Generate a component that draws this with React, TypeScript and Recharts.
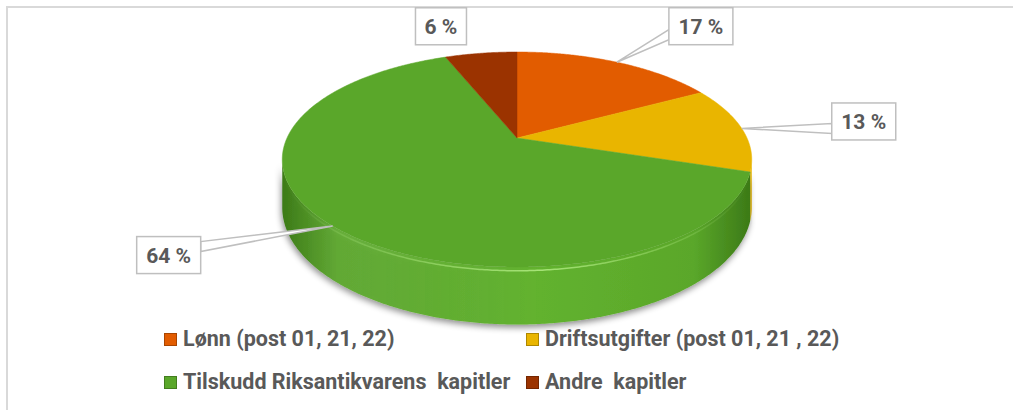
import React from 'react';
import { PieChart, Pie, Cell, Legend } from 'recharts';

// ---- data ----
const categories = [
  'Lønn (post 01, 21, 22)',
  'Driftsutgifter (post 01, 21 , 22)',
  'Tilskudd Riksantikvarens  kapitler',
  'Andre  kapitler',
];
const shares = [17, 13, 64, 6];

// ---- styling / layout (kept apart from the data) ----
const colors = ['#E25C00', '#E9B500', '#5AA72A', '#9B3300'];
const sideDark = ['#A84300', '#AE8500', '#3C7A17', '#6E2400'];
const sideLight = ['#E86A10', '#F0C020', '#62B22F', '#A83A05'];
const labelOffsets: [number, number][] = [
  [84, -36],
  [122, -7],
  [-164, 29],
  [-40, -27],
];
const legendCols = [164, 526];
const legendRows = [339, 382];

const data = categories.map((name, i) => ({ name, value: shares[i] }));

const W = 1013;
const H = 410;
const CX = 517;
const CY = 138;
const R = 230;
const TILT = 0.4487;
const PERSP = 0.2;
const DEPTH = 46;
const FONT = 'Roboto, "Open Sans", sans-serif';

function project(cx: number, cy: number, r: number, deg: number, down = 0): [number, number] {
  const t = (deg * Math.PI) / 180;
  const u = Math.cos(t);
  const v = Math.sin(t);
  const w = 1 / (1 + PERSP * v);
  return [cx + r * u * w, cy - r * TILT * v * w + down * w];
}

function arcAngles(s: number, e: number): number[] {
  const n = Math.max(2, Math.ceil(Math.abs(e - s) / 0.5));
  const out: number[] = [];
  for (let i = 0; i <= n; i++) out.push(s + ((e - s) * i) / n);
  return out;
}

const pt = (p: [number, number]) => `${p[0].toFixed(2)},${p[1].toFixed(2)}`;

// sides of the 3D pie
const renderSide = (p: any) => {
  const { cx, cy, outerRadius, startAngle, endAngle, index } = p;
  const angs = arcAngles(startAngle, endAngle);
  const runs: number[][] = [];
  let cur: number[] = [];
  angs.forEach((a) => {
    const vis = Math.sin((a * Math.PI) / 180) < -PERSP;
    if (vis) cur.push(a);
    else if (cur.length) {
      runs.push(cur);
      cur = [];
    }
  });
  if (cur.length) runs.push(cur);
  if (!runs.length) return <g key={`side-${index}`} />;
  const gid = `sideGrad${index}`;
  return (
    <g key={`side-${index}`}>
      <defs>
        <linearGradient id={gid} x1="0" y1="0" x2="1" y2="0">
          <stop offset="0%" stopColor={sideDark[index]} />
          <stop offset="12%" stopColor={colors[index]} stopOpacity={0.9} />
          <stop offset="55%" stopColor={sideLight[index]} />
          <stop offset="88%" stopColor={colors[index]} />
          <stop offset="100%" stopColor={sideDark[index]} />
        </linearGradient>
        <linearGradient id={`hl${index}`} x1="0" y1="0" x2="1" y2="0">
          <stop offset="0%" stopColor="#B8F08A" stopOpacity={0} />
          <stop offset="55%" stopColor="#B8F08A" stopOpacity={0.8} />
          <stop offset="100%" stopColor="#B8F08A" stopOpacity={0} />
        </linearGradient>
        <filter id={`sh${index}`} x="-10%" y="-20%" width="120%" height="160%">
          <feDropShadow dx="-1" dy="3" stdDeviation="3" floodColor="#000" floodOpacity="0.45" />
        </filter>
      </defs>
      {runs.map((run, k) => {
        const top = run.map((a) => project(cx, cy, outerRadius, a));
        const bot = run.map((a) => project(cx, cy, outerRadius, a, DEPTH)).reverse();
        const d = `M${top.map(pt).join('L')}L${bot.map(pt).join('L')}Z`;
        const hl = run.map((a) => project(cx, cy, outerRadius, a, 3));
        return (
          <g key={k}>
            <path d={d} fill={`url(#${gid})`} filter={`url(#sh${index})`} />
            {index === 2 && (
              <path d={`M${hl.map(pt).join('L')}`} fill="none" stroke={`url(#hl${index})`} strokeWidth={1.5} />
            )}
          </g>
        );
      })}
    </g>
  );
};

// tops of the 3D pie
const renderTop = (p: any) => {
  const { cx, cy, outerRadius, startAngle, endAngle, index } = p;
  const pts = arcAngles(startAngle, endAngle).map((a) => project(cx, cy, outerRadius, a));
  const d = `M${cx},${cy}L${pts.map(pt).join('L')}Z`;
  return <path key={`top-${index}`} d={d} fill={colors[index]} stroke={colors[index]} strokeWidth={0.5} />;
};

// data labels in callout boxes
const renderLabel = (p: any) => {
  const { cx, cy, outerRadius, midAngle, percent, index } = p;
  const [ax, ay] = project(cx, cy, outerRadius, midAngle);
  const text = `${Math.round(percent * 100)} %`;
  const bw = 13 * text.length + 12;
  const bh = 37;
  const bx = ax + labelOffsets[index][0] - bw / 2;
  const by = ay + labelOffsets[index][1] - bh / 2;
  const nx = Math.min(Math.max(ax, bx), bx + bw);
  const ny = Math.min(Math.max(ay, by), by + bh);
  const dist = Math.hypot(ax - nx, ay - ny);
  let wedge: string | null = null;
  if (dist > 25) {
    if (ax < bx || ax > bx + bw) {
      const ex = ax < bx ? bx : bx + bw;
      const yc = Math.min(Math.max(ay, by + 10), by + bh - 10);
      wedge = `${ax},${ay} ${ex},${yc - 5} ${ex},${yc + 5}`;
    } else {
      const ey = ay < by ? by : by + bh;
      const xc = Math.min(Math.max(ax, bx + 10), bx + bw - 10);
      wedge = `${ax},${ay} ${xc - 5},${ey} ${xc + 5},${ey}`;
    }
  }
  return (
    <g key={`lab-${index}`}>
      {wedge && <polygon points={wedge} fill="#FFFFFF" stroke="#BFBFBF" strokeWidth={1.5} />}
      <rect x={bx} y={by} width={bw} height={bh} fill="#FFFFFF" stroke="#BFBFBF" strokeWidth={1.5} />
      <text
        x={bx + bw / 2}
        y={by + bh / 2 + 1}
        textAnchor="middle"
        dominantBaseline="central"
        fill="#595959"
        style={{ fontFamily: FONT, fontWeight: 700, fontSize: 21 }}
      >
        {text}
      </text>
    </g>
  );
};

const renderLegend = (props: any) => {
  const payload = ((props.payload || []) as any[]).filter((e) => e && e.type !== 'none');
  const items = categories
    .map((name) => payload.find((e) => e.value === name))
    .filter((e) => !!e);
  return (
    <div style={{ position: 'relative', width: W, height: H }}>
      {items.map((e: any, i: number) => {
        const col = i % 2;
        const row = Math.floor(i / 2);
        return (
          <div
            key={i}
            style={{
              position: 'absolute',
              left: legendCols[col],
              top: legendRows[row] - 12,
              height: 24,
              display: 'flex',
              alignItems: 'center',
              whiteSpace: 'pre',
            }}
          >
            <span
              style={{
                display: 'inline-block',
                width: 13,
                height: 13,
                background: e.color,
                border: '1px solid rgba(0,0,0,0.25)',
                boxSizing: 'border-box',
                marginRight: 6,
              }}
            />
            <span
              style={{
                fontFamily: FONT,
                fontWeight: 700,
                fontSize: 21.5,
                color: '#595959',
                lineHeight: '24px',
              }}
            >
              {e.value}
            </span>
          </div>
        );
      })}
    </div>
  );
};

export default function App() {
  return (
    <div
      style={{
        position: 'absolute',
        left: 0,
        top: 0,
        width: W,
        height: H,
        overflow: 'hidden',
        background: '#FFFFFF',
      }}
    >
      <div
        style={{
          position: 'absolute',
          left: 6,
          top: 6,
          width: 1100,
          height: 500,
          borderTop: '2px solid #D9D9D9',
          borderLeft: '2px solid #D9D9D9',
        }}
      />
      <div style={{ position: 'absolute', left: 0, top: 0 }}>
        <PieChart width={W} height={H} margin={{ top: 0, right: 0, bottom: 0, left: 0 }}>
          <Pie
            data={data}
            dataKey="value"
            nameKey="name"
            cx={CX}
            cy={CY}
            outerRadius={R}
            startAngle={90}
            endAngle={-270}
            fillOpacity={0}
            stroke="none"
            label={renderSide}
            labelLine={false}
            isAnimationActive={false}
          >
            {data.map((d, i) => (
              <Cell key={d.name} fill={colors[i]} />
            ))}
          </Pie>
          <Pie
            data={data}
            dataKey="value"
            nameKey="name"
            cx={CX}
            cy={CY}
            outerRadius={R}
            startAngle={90}
            endAngle={-270}
            fillOpacity={0}
            stroke="none"
            legendType="none"
            label={renderTop}
            labelLine={false}
            isAnimationActive={false}
          />
          <Pie
            data={data}
            dataKey="value"
            nameKey="name"
            cx={CX}
            cy={CY}
            outerRadius={R}
            startAngle={90}
            endAngle={-270}
            fillOpacity={0}
            stroke="none"
            legendType="none"
            label={renderLabel}
            labelLine={false}
            isAnimationActive={false}
          />
          <Legend
            content={renderLegend}
            wrapperStyle={{ position: 'absolute', left: 0, top: 0, width: W, height: H, pointerEvents: 'none' }}
          />
        </PieChart>
      </div>
    </div>
  );
}
